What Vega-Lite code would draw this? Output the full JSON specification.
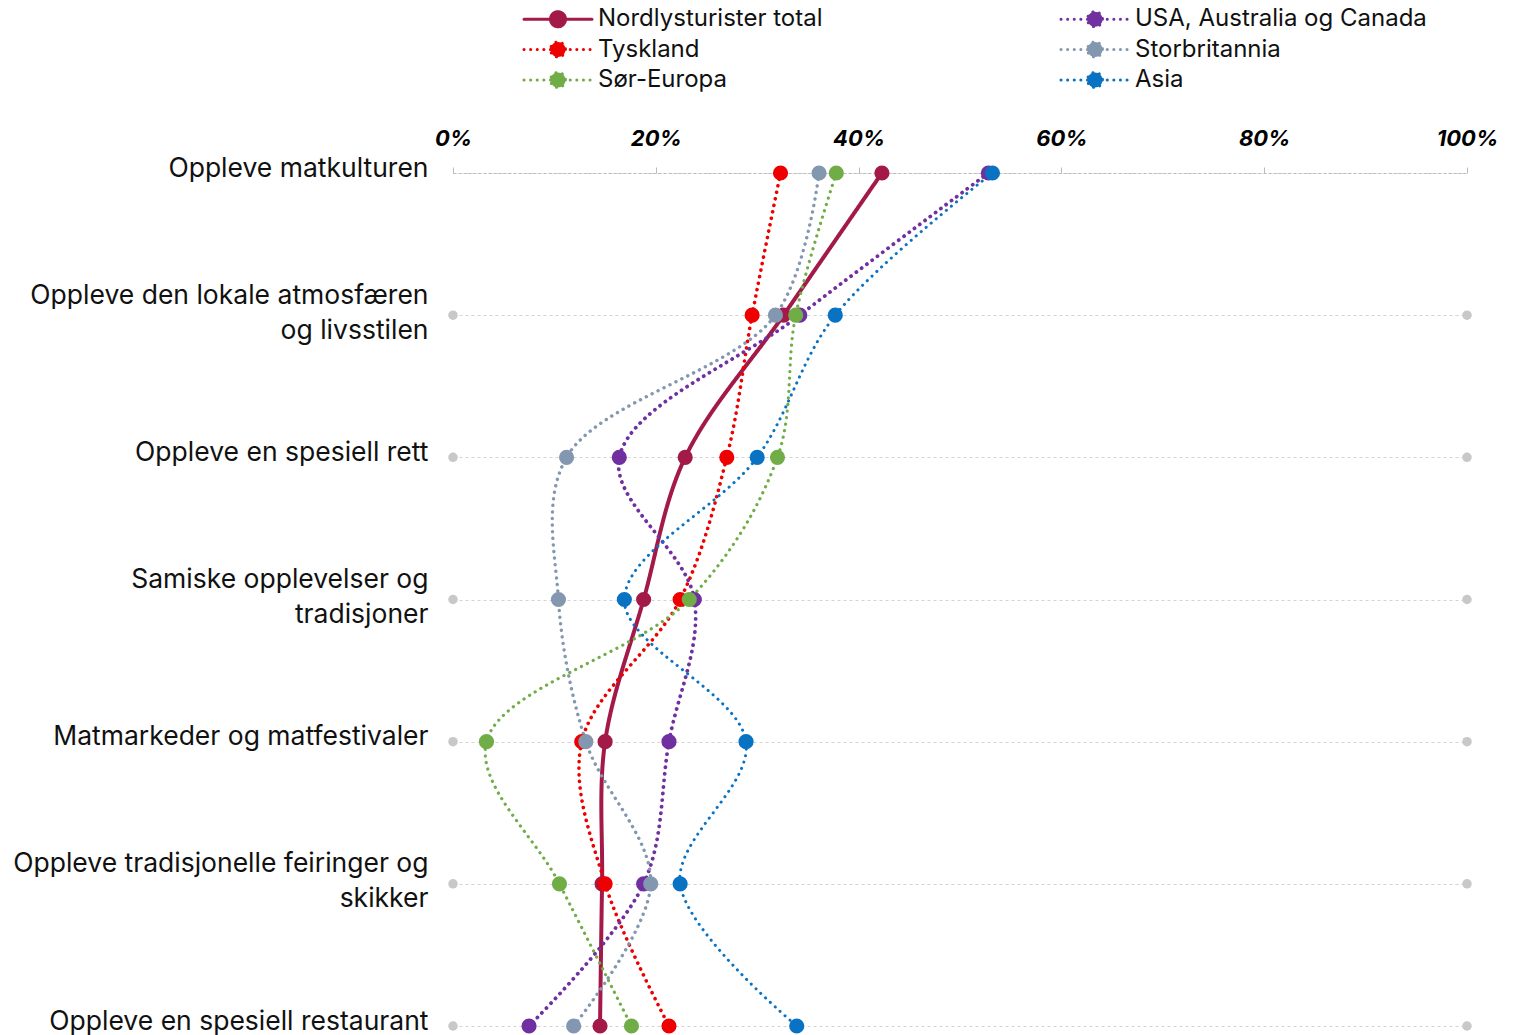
{
  "$schema": "https://vega.github.io/schema/vega-lite/v6.json",
  "width": 1014,
  "height": 853,
  "autosize": {"type": "none"},
  "padding": {"left": 453, "top": 173, "right": 57, "bottom": 9},
  "background": "white",
  "config": {
    "font": "Inter",
    "view": {"stroke": null}
  },
  "datasets": {
    "main": [
      {"serie": "Nordlysturister total", "kategori": "Oppleve matkulturen", "k": 1, "v": 42.3},
      {"serie": "Nordlysturister total", "kategori": "Oppleve den lokale atmosfæren og livsstilen", "k": 2, "v": 32.6},
      {"serie": "Nordlysturister total", "kategori": "Oppleve en spesiell rett", "k": 3, "v": 22.9},
      {"serie": "Nordlysturister total", "kategori": "Samiske opplevelser og tradisjoner", "k": 4, "v": 18.8},
      {"serie": "Nordlysturister total", "kategori": "Matmarkeder og matfestivaler", "k": 5, "v": 15.0},
      {"serie": "Nordlysturister total", "kategori": "Oppleve tradisjonelle feiringer og skikker", "k": 6, "v": 14.7},
      {"serie": "Nordlysturister total", "kategori": "Oppleve en spesiell restaurant", "k": 7, "v": 14.5},
      {"serie": "Tyskland", "kategori": "Oppleve matkulturen", "k": 1, "v": 32.3},
      {"serie": "Tyskland", "kategori": "Oppleve den lokale atmosfæren og livsstilen", "k": 2, "v": 29.5},
      {"serie": "Tyskland", "kategori": "Oppleve en spesiell rett", "k": 3, "v": 27.0},
      {"serie": "Tyskland", "kategori": "Samiske opplevelser og tradisjoner", "k": 4, "v": 22.4},
      {"serie": "Tyskland", "kategori": "Matmarkeder og matfestivaler", "k": 5, "v": 12.7},
      {"serie": "Tyskland", "kategori": "Oppleve tradisjonelle feiringer og skikker", "k": 6, "v": 15.0},
      {"serie": "Tyskland", "kategori": "Oppleve en spesiell restaurant", "k": 7, "v": 21.3},
      {"serie": "USA, Australia og Canada", "kategori": "Oppleve matkulturen", "k": 1, "v": 52.8},
      {"serie": "USA, Australia og Canada", "kategori": "Oppleve den lokale atmosfæren og livsstilen", "k": 2, "v": 34.2},
      {"serie": "USA, Australia og Canada", "kategori": "Oppleve en spesiell rett", "k": 3, "v": 16.4},
      {"serie": "USA, Australia og Canada", "kategori": "Samiske opplevelser og tradisjoner", "k": 4, "v": 23.8},
      {"serie": "USA, Australia og Canada", "kategori": "Matmarkeder og matfestivaler", "k": 5, "v": 21.3},
      {"serie": "USA, Australia og Canada", "kategori": "Oppleve tradisjonelle feiringer og skikker", "k": 6, "v": 18.8},
      {"serie": "USA, Australia og Canada", "kategori": "Oppleve en spesiell restaurant", "k": 7, "v": 7.5},
      {"serie": "Storbritannia", "kategori": "Oppleve matkulturen", "k": 1, "v": 36.1},
      {"serie": "Storbritannia", "kategori": "Oppleve den lokale atmosfæren og livsstilen", "k": 2, "v": 31.8},
      {"serie": "Storbritannia", "kategori": "Oppleve en spesiell rett", "k": 3, "v": 11.2},
      {"serie": "Storbritannia", "kategori": "Samiske opplevelser og tradisjoner", "k": 4, "v": 10.4},
      {"serie": "Storbritannia", "kategori": "Matmarkeder og matfestivaler", "k": 5, "v": 13.1},
      {"serie": "Storbritannia", "kategori": "Oppleve tradisjonelle feiringer og skikker", "k": 6, "v": 19.5},
      {"serie": "Storbritannia", "kategori": "Oppleve en spesiell restaurant", "k": 7, "v": 11.9},
      {"serie": "Sør-Europa", "kategori": "Oppleve matkulturen", "k": 1, "v": 37.8},
      {"serie": "Sør-Europa", "kategori": "Oppleve den lokale atmosfæren og livsstilen", "k": 2, "v": 33.8},
      {"serie": "Sør-Europa", "kategori": "Oppleve en spesiell rett", "k": 3, "v": 32.0},
      {"serie": "Sør-Europa", "kategori": "Samiske opplevelser og tradisjoner", "k": 4, "v": 23.3},
      {"serie": "Sør-Europa", "kategori": "Matmarkeder og matfestivaler", "k": 5, "v": 3.3},
      {"serie": "Sør-Europa", "kategori": "Oppleve tradisjonelle feiringer og skikker", "k": 6, "v": 10.5},
      {"serie": "Sør-Europa", "kategori": "Oppleve en spesiell restaurant", "k": 7, "v": 17.6},
      {"serie": "Asia", "kategori": "Oppleve matkulturen", "k": 1, "v": 53.2},
      {"serie": "Asia", "kategori": "Oppleve den lokale atmosfæren og livsstilen", "k": 2, "v": 37.7},
      {"serie": "Asia", "kategori": "Oppleve en spesiell rett", "k": 3, "v": 30.0},
      {"serie": "Asia", "kategori": "Samiske opplevelser og tradisjoner", "k": 4, "v": 16.9},
      {"serie": "Asia", "kategori": "Matmarkeder og matfestivaler", "k": 5, "v": 28.9},
      {"serie": "Asia", "kategori": "Oppleve tradisjonelle feiringer og skikker", "k": 6, "v": 22.4},
      {"serie": "Asia", "kategori": "Oppleve en spesiell restaurant", "k": 7, "v": 33.9}
    ],
    "ends": [
      {"kategori": "Oppleve den lokale atmosfæren og livsstilen", "v": 0},
      {"kategori": "Oppleve den lokale atmosfæren og livsstilen", "v": 100},
      {"kategori": "Oppleve en spesiell rett", "v": 0},
      {"kategori": "Oppleve en spesiell rett", "v": 100},
      {"kategori": "Samiske opplevelser og tradisjoner", "v": 0},
      {"kategori": "Samiske opplevelser og tradisjoner", "v": 100},
      {"kategori": "Matmarkeder og matfestivaler", "v": 0},
      {"kategori": "Matmarkeder og matfestivaler", "v": 100},
      {"kategori": "Oppleve tradisjonelle feiringer og skikker", "v": 0},
      {"kategori": "Oppleve tradisjonelle feiringer og skikker", "v": 100},
      {"kategori": "Oppleve en spesiell restaurant", "v": 0},
      {"kategori": "Oppleve en spesiell restaurant", "v": 100}
    ]
  },
  "encoding": {
    "y": {
      "field": "kategori",
      "type": "nominal",
      "sort": ["Oppleve matkulturen", "Oppleve den lokale atmosfæren og livsstilen", "Oppleve en spesiell rett", "Samiske opplevelser og tradisjoner", "Matmarkeder og matfestivaler", "Oppleve tradisjonelle feiringer og skikker", "Oppleve en spesiell restaurant"],
      "scale": {"type": "point", "padding": 0},
      "axis": {
        "title": null,
        "domain": false,
        "ticks": false,
        "grid": true,
        "gridColor": "#D3D3D3",
        "gridDash": [3, 3],
        "gridWidth": 1,
        "labelFont": "Inter",
        "labelFontSize": 26.5,
        "labelColor": "#111111",
        "labelPadding": 25,
        "labelLimit": 600,
        "labelLineHeight": 35,
        "labelOffset": {"condition": {"test": "indexof(['Oppleve den lokale atmosfæren og livsstilen', 'Samiske opplevelser og tradisjoner', 'Oppleve tradisjonelle feiringer og skikker'], datum.value) >= 0", "value": -20}, "value": -5},
        "labelExpr": "datum.value == 'Oppleve den lokale atmosfæren og livsstilen' ? ['Oppleve den lokale atmosfæren', 'og livsstilen'] : datum.value == 'Samiske opplevelser og tradisjoner' ? ['Samiske opplevelser og', 'tradisjoner'] : datum.value == 'Oppleve tradisjonelle feiringer og skikker' ? ['Oppleve tradisjonelle feiringer og', 'skikker'] : datum.value"
      }
    },
    "x": {
      "field": "v",
      "type": "quantitative",
      "scale": {"domain": [0, 100], "nice": false, "zero": true},
      "axis": {
        "orient": "top",
        "title": null,
        "values": [0, 20, 40, 60, 80, 100],
        "grid": false,
        "domain": true,
        "domainColor": "#BBBBBB",
        "domainDash": [3, 2],
        "domainWidth": 1,
        "ticks": true,
        "tickColor": "#BBBBBB",
        "tickSize": 6,
        "tickWidth": 1,
        "labelFont": "Inter",
        "labelFontSize": 22,
        "labelFontStyle": "italic",
        "labelFontWeight": "bold",
        "labelColor": "#000000",
        "labelPadding": 17,
        "labelFlush": false,
        "labelBound": false,
        "labelOverlap": false,
        "labelExpr": "datum.value + '%'"
      }
    }
  },
  "layer": [
    {
      "data": {"name": "ends"},
      "mark": {"type": "point", "filled": true, "size": 90, "color": "#C8C8C8", "opacity": 1}
    },
    {
      "data": {"name": "main"},
      "mark": {"type": "line", "interpolate": "catmull-rom", "strokeCap": "round"},
      "encoding": {
        "order": {"field": "k", "type": "quantitative"},
        "color": {
          "field": "serie",
          "type": "nominal",
          "scale": {
            "domain": ["Nordlysturister total", "USA, Australia og Canada", "Tyskland", "Storbritannia", "Sør-Europa", "Asia"],
            "range": ["#A31948", "#7030A0", "#EE0000", "#8497B0", "#70AD47", "#0A72C2"]
          },
          "legend": null
        },
        "strokeDash": {
          "field": "serie",
          "type": "nominal",
          "sort": ["Nordlysturister total", "USA, Australia og Canada", "Tyskland", "Storbritannia", "Sør-Europa", "Asia"],
          "scale": {
            "range": [[1, 0], [0.1, 6.5], [0.1, 6.5], [0.1, 6.5], [0.1, 6.5], [0.1, 6.5]]
          },
          "legend": {
            "orient": "none",
            "legendX": 93,
            "legendY": -166,
            "direction": "horizontal",
            "columns": 2,
            "columnPadding": 232,
            "rowPadding": 2.5,
            "title": null,
            "symbolType": "M-3.4,0L3.4,0M0.75,0A0.75,0.75,0,1,1,-0.75,0A0.75,0.75,0,1,1,0.75,0Z",
            "symbolSize": 400,
            "symbolStrokeWidth": 3,
            "labelFont": "Inter",
            "labelFontSize": 24,
            "labelColor": "#111111",
            "labelOffset": 28,
            "labelLimit": 500,
            "encode": {
              "symbols": {"update": {
                "stroke": {"scale": "color", "field": "value"},
                "fill": {"scale": "color", "field": "value"},
                "fillOpacity": {"value": 1},
                "strokeCap": {"value": "round"}
              }}
            }
          }
        },
        "strokeWidth": {
          "field": "serie",
          "type": "nominal",
          "scale": {
            "domain": ["Nordlysturister total", "USA, Australia og Canada", "Tyskland", "Storbritannia", "Sør-Europa", "Asia"],
            "range": [4, 3, 3, 3, 3, 3]
          },
          "legend": null
        }
      }
    },
    {
      "data": {"name": "main"},
      "mark": {"type": "point", "filled": true, "size": 230, "opacity": 1},
      "encoding": {
        "color": {"field": "serie", "type": "nominal", "legend": null}
      }
    }
  ]
}
